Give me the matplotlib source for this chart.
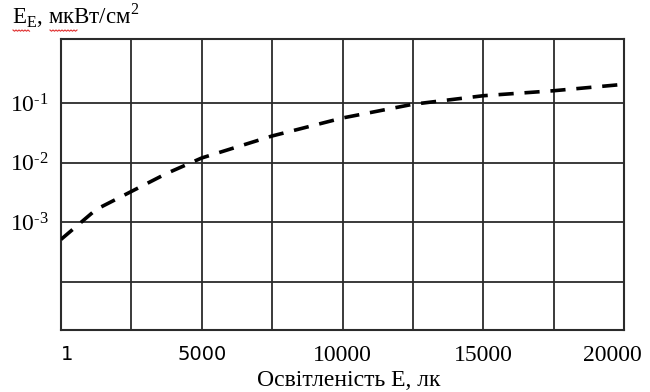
import matplotlib
matplotlib.use("Agg")
import matplotlib.pyplot as plt
import matplotlib.transforms as mtransforms
from matplotlib.lines import Line2D
import numpy as np

plt.rcParams['font.family'] = ['Liberation Serif', 'DejaVu Serif']
plt.rcParams['mathtext.fontset'] = 'custom'
plt.rcParams['mathtext.rm'] = 'Liberation Serif'

# data
illum = [0, 1250, 2500, 3750, 5000, 7500, 10000, 12500, 15000, 17500, 20000]
power = [5.2e-4, 1.65e-3, 3.3e-3, 6.6e-3, 1.2e-2, 2.8e-2, 5.6e-2, 9.5e-2, 1.32e-1, 1.6e-1, 2.05e-1]
x_grid = [0, 2500, 5000, 7500, 10000, 12500, 15000, 17500, 20000]
x_tick_pos = [0, 5000, 10000, 15000, 20000]
x_tick_lab = ['1', '5000', '10000', '15000', '20000']
y_grid = [1e-4, 1e-3, 1e-2, 1e-1]
y_tick_pos = [1e-3, 1e-2, 1e-1]
y_tick_lab = ['$\\mathregular{10^{\u2010 3}}$', '$\\mathregular{10^{\u2010 2}}$', '$\\mathregular{10^{\u2010 1}}$']

fig = plt.figure(figsize=(6.5, 3.92), dpi=100)
ax = fig.add_axes([61/650, 1-330/392, (624-61)/650, (330-39)/392])

gc = '#2b2b2b'
for xv in x_grid:
    ax.axvline(xv, color=gc, lw=1.3, zorder=1)
for yv in y_grid:
    ax.axhline(yv, color=gc, lw=1.3, zorder=1)

ax.plot(illum, power, color='black', lw=2.6, linestyle=(0, (4.2, 3.0)), zorder=3,
        dash_capstyle='butt')

ax.set_yscale('log')
ax.set_xlim(0, 20000)
ax.set_ylim(10**-4.8, 10**0.07)
ax.minorticks_off()
ax.set_xticks(x_tick_pos)
ax.set_xticklabels(x_tick_lab, fontsize=17)
ax.set_yticks(y_tick_pos)
ax.set_yticklabels(y_tick_lab, fontsize=17)
ax.tick_params(axis='both', length=0)
ax.tick_params(axis='x', pad=11)
ax.tick_params(axis='y', pad=9)
for s in ax.spines.values():
    s.set_color(gc)
    s.set_linewidth(1.5)

labs = ax.get_xticklabels()
labs[0].set_horizontalalignment('left')
labs[-1].set_transform(labs[-1].get_transform() +
                       mtransforms.ScaledTranslation(-12/100, 0, fig.dpi_scale_trans))
for i, l in enumerate(labs):
    if i in (0, 1):
        l.set_family(['DejaVu Sans'])
        l.set_fontsize(14)

fig.text(349/650, 1-386/392, 'Освітленість E, лк', fontsize=17,
         ha='center', va='baseline')

fig.text(12/650, 1-24/392, r'E$_\mathregular{E}$, мкВт/см$^\mathregular{2}$', fontsize=16.5,
         ha='left', va='baseline')

# spell-check wavy underline as in the source screenshot
def wavy(x0, x1, y):
    xs = np.arange(x0, x1 + 0.1, 1.5)
    ys = y + 1.2 * (np.arange(len(xs)) % 2)
    fig.add_artist(Line2D(xs / 650, 1 - ys / 392, transform=fig.transFigure,
                          color='#e03030', lw=0.8))
wavy(13, 30, 30)
wavy(50, 78, 30)

fig.savefig('out.png', dpi=100)
